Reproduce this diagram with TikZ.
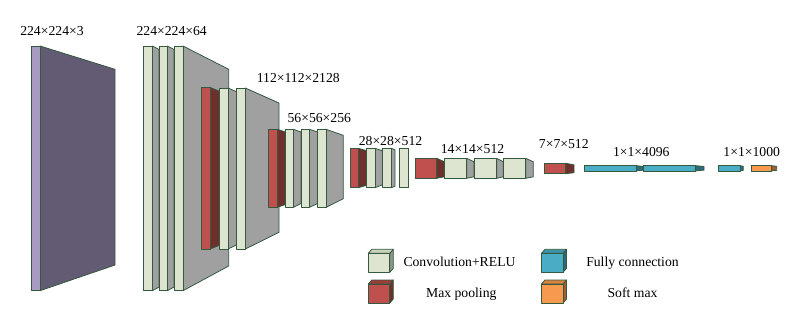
\documentclass[tikz,border=0pt]{standalone}
\usepackage{fontspec}
\setmainfont{Liberation Serif}
\definecolor{edgec}{HTML}{35593F}
\definecolor{convF}{HTML}{DDE4CF}
\definecolor{convS}{HTML}{A0A0A0}
\definecolor{poolF}{HTML}{C0504D}
\definecolor{poolS}{HTML}{6F2F2C}
\definecolor{inF}{HTML}{A89BC2}
\definecolor{inS}{HTML}{635A74}
\definecolor{fcF}{HTML}{4BACC6}
\definecolor{fcS}{HTML}{2D6B7B}
\definecolor{smF}{HTML}{F79A50}
\definecolor{smS}{HTML}{A45E2C}
\definecolor{convLS}{HTML}{8E9A86}
\definecolor{convLT}{HTML}{C9D1BA}
\definecolor{poolLT}{HTML}{9C3D3A}
\definecolor{fcLT}{HTML}{3E93AA}
\definecolor{smLT}{HTML}{D88240}
\tikzset{
  edge/.style={draw=edgec, line width=0.8pt, line join=round},
  infront/.style={edge, fill=inF},
  inside/.style={edge, fill=inS},
  convfront/.style={edge, fill=convF},
  convside/.style={edge, fill=convS},
  poolfront/.style={edge, fill=poolF},
  poolside/.style={edge, fill=poolS},
  fcfront/.style={edge, fill=fcF},
  fcside/.style={edge, fill=fcS},
  smfront/.style={edge, fill=smF},
  smside/.style={edge, fill=smS},
  lbl/.style={font=\fontsize{13.7}{16}\selectfont, inner sep=0pt, anchor=base},
}
% x0 x1 ytop ybot xend droptop risebottom frontstyle sidestyle
\newcommand{\layerbox}[9]{%
  \path[#9] (#2,#3) -- (#5,#3+#6) -- (#5,#4-#7) -- (#2,#4) -- cycle;
  \path[#8] (#1,#3) rectangle (#2,#4);
}
% x y(top) frontstyle sidestyle topfill
\newcommand{\legcube}[5]{%
  \path[#4] (#1+21.5,#2) -- (#1+25,#2-4) -- (#1+25,#2+15) -- (#1+21.5,#2+19) -- cycle;
  \path[edge, fill=#5] (#1,#2) -- (#1+3.5,#2-4) -- (#1+25,#2-4) -- (#1+21.5,#2) -- cycle;
  \path[#3] (#1,#2) rectangle (#1+21.5,#2+19);
}
\begin{document}
\begin{tikzpicture}[x=1pt,y=-1pt]
\useasboundingbox (0,0) rectangle (796,330);
% input
\layerbox{31.7}{40}{46}{290.7}{115}{23.3}{25.7}{infront}{inside}
% conv block 1
\layerbox{143.3}{152.3}{46}{290.7}{159}{3.4}{3.6}{convfront}{convside}
\layerbox{159}{167.3}{46}{290.7}{174}{3.4}{3.6}{convfront}{convside}
\layerbox{174}{183}{46}{290.7}{228.7}{23.3}{24.7}{convfront}{convside}
% pool 1
\layerbox{201.3}{210.3}{87.5}{249}{219.3}{3.7}{3.7}{poolfront}{poolside}
% conv block 2
\layerbox{219.3}{228}{88}{249}{236.7}{3.8}{4.2}{convfront}{convside}
\layerbox{236.7}{245.3}{88}{249}{279}{15}{16.7}{convfront}{convside}
% pool 2
\layerbox{268.3}{277.3}{129.3}{207.3}{285}{2.6}{2.6}{poolfront}{poolside}
% conv block 3
\layerbox{285}{293.3}{129.3}{207.3}{301}{2.7}{3.8}{convfront}{convside}
\layerbox{301}{309.3}{129.3}{207.3}{317.7}{2.7}{3.8}{convfront}{convside}
\layerbox{317.7}{326}{129.3}{207.3}{343.3}{6}{8.6}{convfront}{convside}
% pool 3
\layerbox{350.7}{358.3}{148.3}{187.7}{366.7}{2.4}{2.4}{poolfront}{poolside}
% conv block 4
\layerbox{366.7}{375}{148.3}{187.7}{382.7}{2.5}{3}{convfront}{convside}
\layerbox{382.7}{391.3}{148.3}{187.7}{395}{1.5}{1.5}{convfront}{convside}
\layerbox{399.3}{408}{148.3}{187.7}{408}{0}{0}{convfront}{convside}
% pool 4
\layerbox{415}{436.7}{158.3}{178.3}{444.3}{3.4}{1.5}{poolfront}{poolside}
% conv block 5
\layerbox{444.3}{466.7}{158.3}{178.3}{474}{3.5}{1.5}{convfront}{convside}
\layerbox{474}{496.7}{158.3}{178.3}{503.3}{3.5}{1.5}{convfront}{convside}
\layerbox{503.3}{525.7}{158.3}{178.3}{533.3}{3.5}{1.5}{convfront}{convside}
% pool 5
\layerbox{544}{565.7}{163.3}{173.7}{574}{1.5}{1}{poolfront}{poolside}
% fully connected
\layerbox{584.3}{636.5}{165.7}{170.9}{643.3}{0.8}{0.8}{fcfront}{fcside}
\layerbox{643.3}{695.7}{165.7}{170.9}{704}{0.8}{0.8}{fcfront}{fcside}
\layerbox{718.3}{740}{165.7}{170.9}{743.3}{0.6}{0.6}{fcfront}{fcside}
% softmax
\layerbox{751}{771.7}{165.7}{170.9}{776.7}{0.6}{0.6}{smfront}{smside}
% size labels
\node[lbl] (l1) at (52,35) {224×224×3};
\node[lbl] (l2) at (171.7,35) {224×224×64};
\node[lbl] (l3) at (298.3,82.7) {112×112×2128};
\node[lbl] (l4) at (319.3,122.3) {56×56×256};
\node[lbl] (l5) at (390.5,145) {28×28×512};
\node[lbl] (l6) at (472.5,153.3) {14×14×512};
\node[lbl] (l7) at (563.8,148) {7×7×512};
\node[lbl] (l8) at (641.3,156) {1×1×4096};
\node[lbl] (l9) at (751.7,156) {1×1×1000};
% legend
\legcube{368.3}{253.3}{convfront}{edge, fill=convLS}{convLT}
\legcube{368.3}{284}{poolfront}{poolside}{poolLT}
\legcube{541.5}{253.3}{fcfront}{fcside}{fcLT}
\legcube{541.5}{284}{smfront}{smside}{smLT}
\node[lbl] (t1) at (459.5,266) {Convolution+RELU};
\node[lbl] (t2) at (461.3,297.5) {Max pooling};
\node[lbl] (t3) at (632.5,266) {Fully connection};
\node[lbl] (t4) at (632.5,297.5) {Soft max};
\end{tikzpicture}
\end{document}
